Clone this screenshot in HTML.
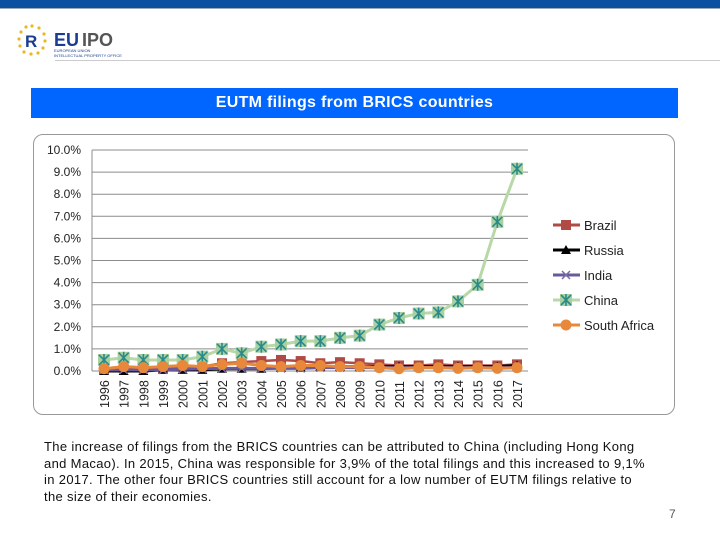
<!DOCTYPE html>
<html><head><meta charset="utf-8"><style>
body{margin:0;width:720px;height:540px;background:#fff;position:relative;overflow:hidden;font-family:"Liberation Sans",sans-serif}
.abs{position:absolute}
</style></head><body>
<div class="abs" style="left:0;top:0;width:720px;height:8px;background:#0c4fa0"></div>
<div class="abs" style="left:0;top:8px;width:720px;height:1px;background:#9ab"></div>
<div class="abs" style="left:16px;top:22px;width:130px;height:40px">
<svg width="130" height="40"><g fill="#e8b923"><circle cx="16" cy="4" r="1.6"/><circle cx="23" cy="6" r="1.6"/><circle cx="28" cy="12" r="1.6"/><circle cx="29" cy="19" r="1.6"/><circle cx="27" cy="26" r="1.6"/><circle cx="22" cy="31" r="1.6"/><circle cx="15" cy="32" r="1.6"/><circle cx="8" cy="30" r="1.6"/><circle cx="4" cy="24" r="1.6"/><circle cx="3" cy="17" r="1.6"/><circle cx="5" cy="10" r="1.6"/><circle cx="10" cy="5" r="1.6"/></g>
<text x="9" y="25" font-size="17" font-weight="bold" fill="#1a3d8f" font-family="Liberation Sans">R</text>
<text x="38" y="24" font-size="18" font-weight="bold" fill="#1a3d8f" font-family="Liberation Sans">EU</text><text x="66" y="24" font-size="18" font-weight="bold" fill="#555" font-family="Liberation Sans">IPO</text>
<text x="38" y="30" font-size="4" fill="#1a3d8f" font-family="Liberation Sans">EUROPEAN UNION</text><text x="38" y="35" font-size="4" fill="#1a3d8f" font-family="Liberation Sans">INTELLECTUAL PROPERTY OFFICE</text></svg></div>
<div class="abs" style="left:55px;top:60px;width:665px;height:1px;background:#ccc"></div>
<div class="abs" style="left:31px;top:88px;width:647px;height:30px;background:#0066ff;color:#fff;font-weight:bold;font-size:16px;line-height:30px;text-align:center;letter-spacing:0.3px">EUTM filings from BRICS countries</div>
<div class="abs" style="left:33px;top:134px;width:642px;height:281px;border:1px solid #999;border-radius:10px;box-sizing:border-box"></div>
<svg class="abs" id="chart" style="left:0;top:0" width="720" height="540"></svg>
<div class="abs" style="left:44px;top:439px;width:660px;white-space:nowrap;font-size:13px;line-height:16.5px;letter-spacing:0.34px;color:#111">The increase of filings from the BRICS countries can be attributed to China (including Hong Kong<br>and Macao). In 2015, China was responsible for 3,9% of the total filings and this increased to 9,1%<br>in 2017. The other four BRICS countries still account for a low number of EUTM filings relative to<br>the size of their economies.</div>
<div class="abs" style="left:669px;top:507px;font-size:12px;color:#555">7</div>
<script>
const years=["1996","1997","1998","1999","2000","2001","2002","2003","2004","2005","2006","2007","2008","2009","2010","2011","2012","2013","2014","2015","2016","2017"];
const yTicks=[0,1,2,3,4,5,6,7,8,9,10];
const brazil=[0.1,0.15,0.15,0.15,0.2,0.2,0.35,0.4,0.45,0.5,0.45,0.35,0.4,0.35,0.3,0.25,0.25,0.3,0.25,0.25,0.25,0.3];
const russia=[0,0,0,0.05,0.05,0.05,0.1,0.1,0.1,0.15,0.15,0.2,0.2,0.2,0.2,0.2,0.2,0.2,0.2,0.2,0.2,0.25];
const india=[0.05,0.05,0.05,0.05,0.08,0.1,0.12,0.12,0.12,0.12,0.12,0.15,0.15,0.15,0.15,0.15,0.15,0.15,0.15,0.15,0.15,0.15];
const china=[0.5,0.6,0.5,0.5,0.5,0.65,1.0,0.8,1.1,1.2,1.35,1.35,1.5,1.6,2.1,2.4,2.6,2.65,3.15,3.9,6.75,9.15];
const southAfrica=[0.1,0.2,0.15,0.2,0.25,0.2,0.3,0.35,0.25,0.2,0.25,0.25,0.2,0.2,0.15,0.1,0.15,0.15,0.12,0.15,0.12,0.15];
const NS='http://www.w3.org/2000/svg',svg=document.getElementById('chart');
const X0=92,X1=528,Y0=371,Y10=150;
const x=i=>104+i*(517-104)/(years.length-1);
const y=v=>Y0-(v/10)*(Y0-Y10);
function mk(t,a,p){const e=document.createElementNS(NS,t);for(const k in a)e.setAttribute(k,a[k]);(p||svg).appendChild(e);return e;}
yTicks.forEach(t=>{
const g=mk('line',{x1:X0,x2:X1,y1:y(t),y2:y(t),stroke:'#8c8c8c','stroke-width':1});


const l=mk('text',{x:81,y:y(t)+4,'text-anchor':'end','font-size':12,fill:'#222','font-family':'Liberation Sans'});
l.textContent=t.toFixed(1)+'%';


});
mk('line',{x1:X0,x2:X0,y1:Y10,y2:Y0,stroke:'#8c8c8c'});
years.forEach((yr,i)=>{
const l=mk('text',{x:0,y:0,transform:`translate(${x(i)+5},${408}) rotate(-90)`,'font-size':12.5,fill:'#222','font-family':'Liberation Sans'});
l.textContent=yr;


});
function marker(kind,cx,cy,col){
if(kind==='sq')return mk('rect',{x:cx-5,y:cy-5,width:10,height:10,fill:'#b04a45'});
if(kind==='tri')return mk('path',{d:`M${cx},${cy-5}L${cx+5},${cy+4}L${cx-5},${cy+4}Z`,fill:'#000'});
if(kind==='x')return mk('path',{d:`M${cx-4},${cy-4}L${cx+4},${cy+4}M${cx-4},${cy+4}L${cx+4},${cy-4}`,stroke:'#7a6aa8','stroke-width':1.5});
if(kind==='star'){const g=mk('g',{});mk('rect',{x:cx-6,y:cy-6,width:12,height:12,fill:'#a8d0a0'},g);mk('path',{d:`M${cx-5},${cy-5}L${cx+5},${cy+5}M${cx-5},${cy+5}L${cx+5},${cy-5}M${cx},${cy-6}L${cx},${cy+6}`,stroke:'#2a8a8a','stroke-width':1.6},g);return g;}
if(kind==='dot')return mk('circle',{cx,cy,r:5.5,fill:'#e8883a'});
}
const series=[["brazil",brazil,'#b04a45','sq',2.5],["russia",russia,'#000','tri',3],["india",india,'#6a5a9a','x',3],["china",china,'#b8d8a8','star',3],["south-africa",southAfrica,'#e8883a','dot',3]];
series.forEach(([n,d,c,k,w])=>{
const p=mk('polyline',{points:d.map((v,i)=>x(i)+','+y(v)).join(' '),fill:'none',stroke:c,'stroke-width':w});


d.forEach((v,i)=>{const m=marker(k,x(i),y(v),c);

});
});
const names=["Brazil","Russia","India","China","South Africa"];
names.forEach((nm,j)=>{
const ly=225+j*25,s=series[j];
const ln=mk('line',{x1:553,x2:580,y1:ly,y2:ly,stroke:s[2],'stroke-width':3});


const m=marker(s[3],566,ly,s[2]);


const t=mk('text',{x:584,y:ly+5,'font-size':13,fill:'#222','font-family':'Liberation Sans'});
t.textContent=nm;


});
</script>
</body></html>
